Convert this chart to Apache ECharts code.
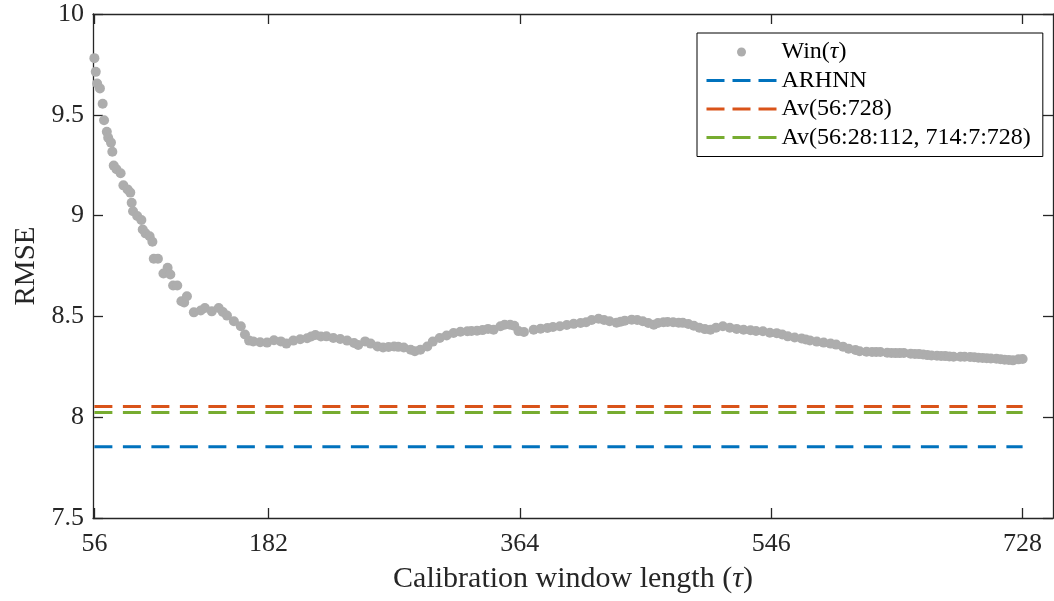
<!DOCTYPE html>
<html>
<head>
<meta charset="utf-8">
<script src="https://cdn.jsdelivr.net/npm/echarts@6/dist/echarts.min.js"></script>
<style>
html,body{margin:0;padding:0;background:#fff;}
#chart{width:1054px;height:601px;}
</style>
</head>
<body>
<div id="chart"></div>
<script>
// Calibration window length tau and the RMSE
const tau = [
  56,57,58,60,62,63,65,66,68,69,
  70,72,75,77,80,82,83,84,87,90,
  91,93,96,98,99,102,106,109,111,113,
  116,119,121,123,128,133,136,141,146,149,
  152,157,162,165,168,171,176,181,186,191,
  195,200,205,210,213,216,220,224,229,234,
  239,244,247,252,256,261,265,269,273,276,
  280,285,288,292,297,301,306,311,316,321,
  326,329,333,337,341,345,350,353,357,360,
  363,367,374,379,384,388,393,398,403,408,
  412,416,421,425,429,434,437,440,445,449,
  453,457,461,464,468,471,475,479,482,486,
  490,494,498,502,506,511,516,521,526,531,
  535,540,545,550,554,558,563,568,571,574,
  579,584,589,593,598,602,607,610,615,619,
  622,625,630,633,636,639,642,647,650,653,
  656,659,662,666,669,672,675,678,683,686,
  690,693,696,699,702,705,709,712,715,718,
  721,725,728
];
const rmse = [
  9.781,9.713,9.655,9.631,9.555,9.473,9.416,9.386,9.362,9.317,
  9.248,9.230,9.210,9.150,9.130,9.114,9.064,9.022,8.998,8.978,
  8.931,8.912,8.898,8.870,8.786,8.786,8.713,8.741,8.708,8.653,
  8.653,8.575,8.569,8.600,8.520,8.529,8.542,8.525,8.542,8.522,
  8.504,8.476,8.451,8.410,8.380,8.376,8.372,8.370,8.382,8.376,
  8.365,8.380,8.387,8.392,8.400,8.408,8.400,8.401,8.393,8.388,
  8.380,8.368,8.358,8.376,8.365,8.351,8.346,8.348,8.351,8.349,
  8.346,8.335,8.327,8.335,8.351,8.375,8.393,8.405,8.418,8.424,
  8.426,8.428,8.429,8.432,8.438,8.434,8.451,8.459,8.459,8.454,
  8.427,8.423,8.434,8.439,8.443,8.447,8.451,8.457,8.463,8.467,
  8.471,8.482,8.488,8.482,8.476,8.469,8.474,8.479,8.484,8.482,
  8.476,8.467,8.459,8.467,8.471,8.472,8.471,8.469,8.468,8.462,
  8.454,8.444,8.437,8.434,8.444,8.451,8.444,8.438,8.434,8.431,
  8.428,8.426,8.419,8.417,8.410,8.401,8.395,8.390,8.385,8.381,
  8.375,8.370,8.365,8.360,8.350,8.340,8.333,8.327,8.325,8.324,
  8.323,8.323,8.320,8.319,8.318,8.318,8.319,8.315,8.314,8.313,
  8.311,8.308,8.306,8.305,8.304,8.303,8.301,8.300,8.300,8.300,
  8.299,8.297,8.295,8.294,8.293,8.291,8.290,8.288,8.285,8.284,
  8.282,8.287,8.289
];
// Reference (benchmark) levels
const refNames = ['ARHNN', 'Av(56:728)', 'Av(56:28:112, 714:7:728)'];
const refValues = [7.854, 8.053, 8.023];
const refSpan = [56, 728];
const xTicks = [56, 182, 364, 546, 728];
const scatterName = 'Win(τ)';

const FONT = '"Liberation Serif", "DejaVu Serif", serif';
const AXC = '#262626';
const refColors = ['#0072BD', '#D95319', '#77AC30'];

const chart = echarts.init(document.getElementById('chart'), null, {renderer: 'canvas'});

const xCommon = {
  type: 'value', min: 55, max: 750,
  axisLine: {show: true, lineStyle: {color: AXC, width: 1.3}},
  axisTick: {show: true, inside: true, length: 10, customValues: xTicks, lineStyle: {color: AXC, width: 1.3}},
  splitLine: {show: false}
};
const yCommon = {
  type: 'value', min: 7.5, max: 10, interval: 0.5,
  axisLine: {show: true, lineStyle: {color: AXC, width: 1.3}},
  axisTick: {show: true, inside: true, length: 10, lineStyle: {color: AXC, width: 1.3}},
  splitLine: {show: false}
};

const series = [{
  name: scatterName,
  type: 'scatter',
  data: tau.map((t, i) => [t, rmse[i]]),
  symbol: 'circle',
  symbolSize: 10,
  itemStyle: {color: '#adadad', opacity: 1},
  xAxisIndex: 0, yAxisIndex: 0,
  z: 3
}];
refNames.forEach((n, k) => {
  series.push({
    name: n,
    type: 'line',
    data: refSpan.map(t => [t, refValues[k]]),
    symbol: 'none',
    lineStyle: {color: refColors[k], width: 3, type: [18, 10.5]},
    itemStyle: {color: refColors[k]},
    xAxisIndex: 0, yAxisIndex: 0,
    z: 2
  });
});

chart.setOption({
  animation: false,
  backgroundColor: '#fff',
  grid: {left: 93, right: 1, top: 14, bottom: 83, containLabel: false},
  xAxis: [
    Object.assign({}, xCommon, {
      position: 'bottom',
      axisLabel: {show: true, customValues: xTicks, margin: 13, color: AXC, fontFamily: FONT, fontSize: 26},
      name: 'Calibration window length ({i|τ})',
      nameLocation: 'middle',
      nameGap: 46,
      nameTextStyle: {color: AXC, fontFamily: FONT, fontSize: 30,
        rich: {i: {fontStyle: 'italic', fontFamily: FONT, fontSize: 30, color: AXC}}}
    }),
    Object.assign({}, xCommon, {position: 'top', axisLabel: {show: false}})
  ],
  yAxis: [
    Object.assign({}, yCommon, {
      position: 'left',
      axisLabel: {show: true, margin: 9, color: AXC, fontFamily: FONT, fontSize: 26},
      name: 'RMSE',
      nameLocation: 'middle',
      nameGap: 46,
      nameTextStyle: {color: AXC, fontFamily: FONT, fontSize: 29}
    }),
    Object.assign({}, yCommon, {position: 'right', axisLabel: {show: false}})
  ],
  legend: {
    show: true,
    orient: 'vertical',
    left: 697, top: 33,
    padding: [7, 12, 7, 8],
    itemGap: 4.5,
    itemWidth: 70,
    itemHeight: 9,
    backgroundColor: '#fff',
    borderColor: '#000',
    borderWidth: 1,
    borderRadius: 0,
    data: [
      {name: scatterName, icon: 'circle'},
      ...refNames.map((n, k) => ({
        name: n,
        itemStyle: {opacity: 0},
        lineStyle: {color: refColors[k], width: 3, type: [18, 8]}
      }))
    ],
    formatter: function (name) {
      return name.replace('τ', '{i|τ}');
    },
    textStyle: {color: '#000', fontFamily: FONT, fontSize: 24, lineHeight: 24,
      rich: {i: {fontStyle: 'italic', fontFamily: FONT, fontSize: 24, lineHeight: 24, color: '#000'}}}
  },
  series: series
});
</script>
</body>
</html>
